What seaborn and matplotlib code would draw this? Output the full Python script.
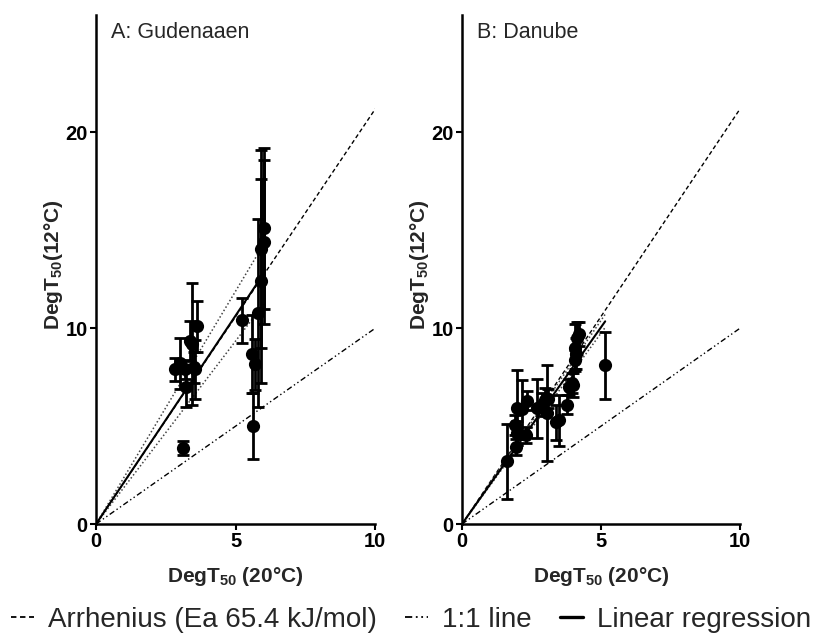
import numpy as np
import pandas as pd
import matplotlib
matplotlib.use("Agg")
import matplotlib.pyplot as plt
import seaborn as sns
from matplotlib.lines import Line2D

sns.set_theme(style="ticks")
plt.rcParams['font.family'] = ['Liberation Sans', 'DejaVu Sans']
plt.rcParams['mathtext.fontset'] = 'custom'
plt.rcParams['mathtext.rm'] = 'Liberation Sans:bold'
plt.rcParams['mathtext.it'] = 'Liberation Sans:bold'
plt.rcParams['mathtext.bf'] = 'Liberation Sans:bold'

# ---- data ----
# A: Gudenaaen
xA = [2.82, 3.02, 3.20, 3.22, 3.37, 3.45, 3.50, 3.55, 3.61, 3.12,
      5.23, 5.60, 5.68, 5.62, 5.80, 5.90, 5.92, 6.00, 6.02]
yA = [7.9, 8.2, 7.9, 7.0, 9.35, 9.2, 8.0, 7.9, 10.1, 3.9,
      10.4, 8.7, 8.15, 5.0, 10.8, 12.4, 14.05, 14.4, 15.1]
errA = [0.6, 1.3, 0.5, 1.0, 1.0, 3.1, 0.8, 1.5, 1.3, 0.35,
        1.15, 2.0, 1.3, 1.7, 4.8, 5.2, 5.05, 4.2, 4.1]

# B: Danube
xB = [1.62, 1.94, 1.97, 1.92, 1.98, 2.16, 2.30, 2.34, 2.70, 2.88,
      3.00, 3.10, 3.06, 3.37, 3.50, 3.77, 3.85, 3.95, 4.00, 4.05,
      4.10, 4.08, 4.15, 4.20, 5.15]
yB = [3.2, 3.95, 4.65, 5.05, 5.95, 5.85, 4.55, 6.3, 5.9, 6.1,
      6.35, 6.4, 5.65, 5.2, 5.3, 6.1, 7.0, 7.2, 7.1, 8.4,
      8.7, 9.0, 9.5, 9.7, 8.1]
errB = [1.9, 0.4, 0.6, 0.5, 1.9, 1.5, 0.4, 0.5, 1.5, 0.6,
        0.6, 0.5, 2.45, 0.9, 1.3, 0.5, 0.4, 0.5, 0.6, 0.5,
        0.8, 1.2, 0.8, 0.6, 1.7]

arrhenius_slope = 2.12
reg_slope = {"A": 2.13, "B": 2.01}
ci_low = {"A": 1.87, "B": 1.95}
ci_high = {"A": 2.38, "B": 2.08}
titles = {"A": "A: Gudenaaen", "B": "B: Danube"}

panels = {"A": (xA, yA, errA), "B": (xB, yB, errB)}

dash_style = (0, (3, 2))
dashdot_style = (0, (4, 2, 1, 2, 1, 2))

fig = plt.figure(figsize=(8.14, 6.35), dpi=100)
axA = fig.add_axes([0.118, 0.1748, 0.343, 0.8016])
axB = fig.add_axes([0.5676, 0.1748, 0.3415, 0.8016])

for key, ax in zip(["A", "B"], [axA, axB]):
    x, y, e = panels[key]
    df = pd.DataFrame({"x": x, "y": y, "err": e})
    line_x = np.array([0, 10])
    ax.plot(line_x, arrhenius_slope * line_x, color="black", ls=dash_style, lw=1.0)
    ax.plot(line_x, line_x, color="black", ls=dashdot_style, lw=1.0)
    xmax = df["x"].max()
    rx = np.array([0, xmax])
    ax.plot(rx, ci_low[key] * rx, color="#444444", ls=(0, (1, 1.5)), lw=1.1)
    ax.plot(rx, ci_high[key] * rx, color="#444444", ls=(0, (1, 1.5)), lw=1.1)
    ax.plot(rx, reg_slope[key] * rx, color="black", lw=1.5)
    ax.errorbar(df["x"], df["y"], yerr=df["err"], fmt="none", ecolor="black",
                elinewidth=2.0, capsize=4.5, capthick=2.0, zorder=3)
    sns.scatterplot(data=df, x="x", y="y", ax=ax, color="black", s=90,
                    edgecolor="black", linewidth=0, zorder=4, legend=False)

    ax.set_xlim(0, 10)
    ax.set_ylim(0, 26)
    ax.set_xticks([0, 5, 10])
    ax.set_yticks([0, 10, 20])
    sns.despine(ax=ax)
    for s in ["left", "bottom"]:
        ax.spines[s].set_linewidth(1.8)
        ax.spines[s].set_color("black")
    ax.tick_params(axis="both", width=1.5, length=4, labelsize=14.5, colors="black", pad=2)
    for lab in ax.get_xticklabels() + ax.get_yticklabels():
        lab.set_fontweight("bold")
    ax.set_xlabel(r"DegT$_{50}$ (20°C)", fontsize=15, fontweight="bold", labelpad=10)
    ax.set_ylabel(r"DegT$_{50}$(12°C)", fontsize=15, fontweight="bold")
    ax.yaxis.set_label_coords(-0.112, 0.51)
    ax.text(0.054, 0.965, titles[key], transform=ax.transAxes, fontsize=15.5,
            va="center", ha="left")

handles = [
    Line2D([], [], color="black", ls=(0, (3, 2)), lw=1.3),
    Line2D([], [], color="black", ls=(0, (4, 2, 1, 2, 1, 2)), lw=1.3),
    Line2D([], [], color="black", lw=2.4),
]
labels = ["Arrhenius (Ea 65.4 kJ/mol)", "1:1 line", "Linear regression"]
fig.legend(handles, labels, loc="center", bbox_to_anchor=(0.505, 0.024), ncol=3,
           frameon=False, fontsize=20, handlelength=0.85, handletextpad=0.5,
           columnspacing=1.0, borderpad=0, borderaxespad=0)

fig.savefig("out.png", dpi=100)
